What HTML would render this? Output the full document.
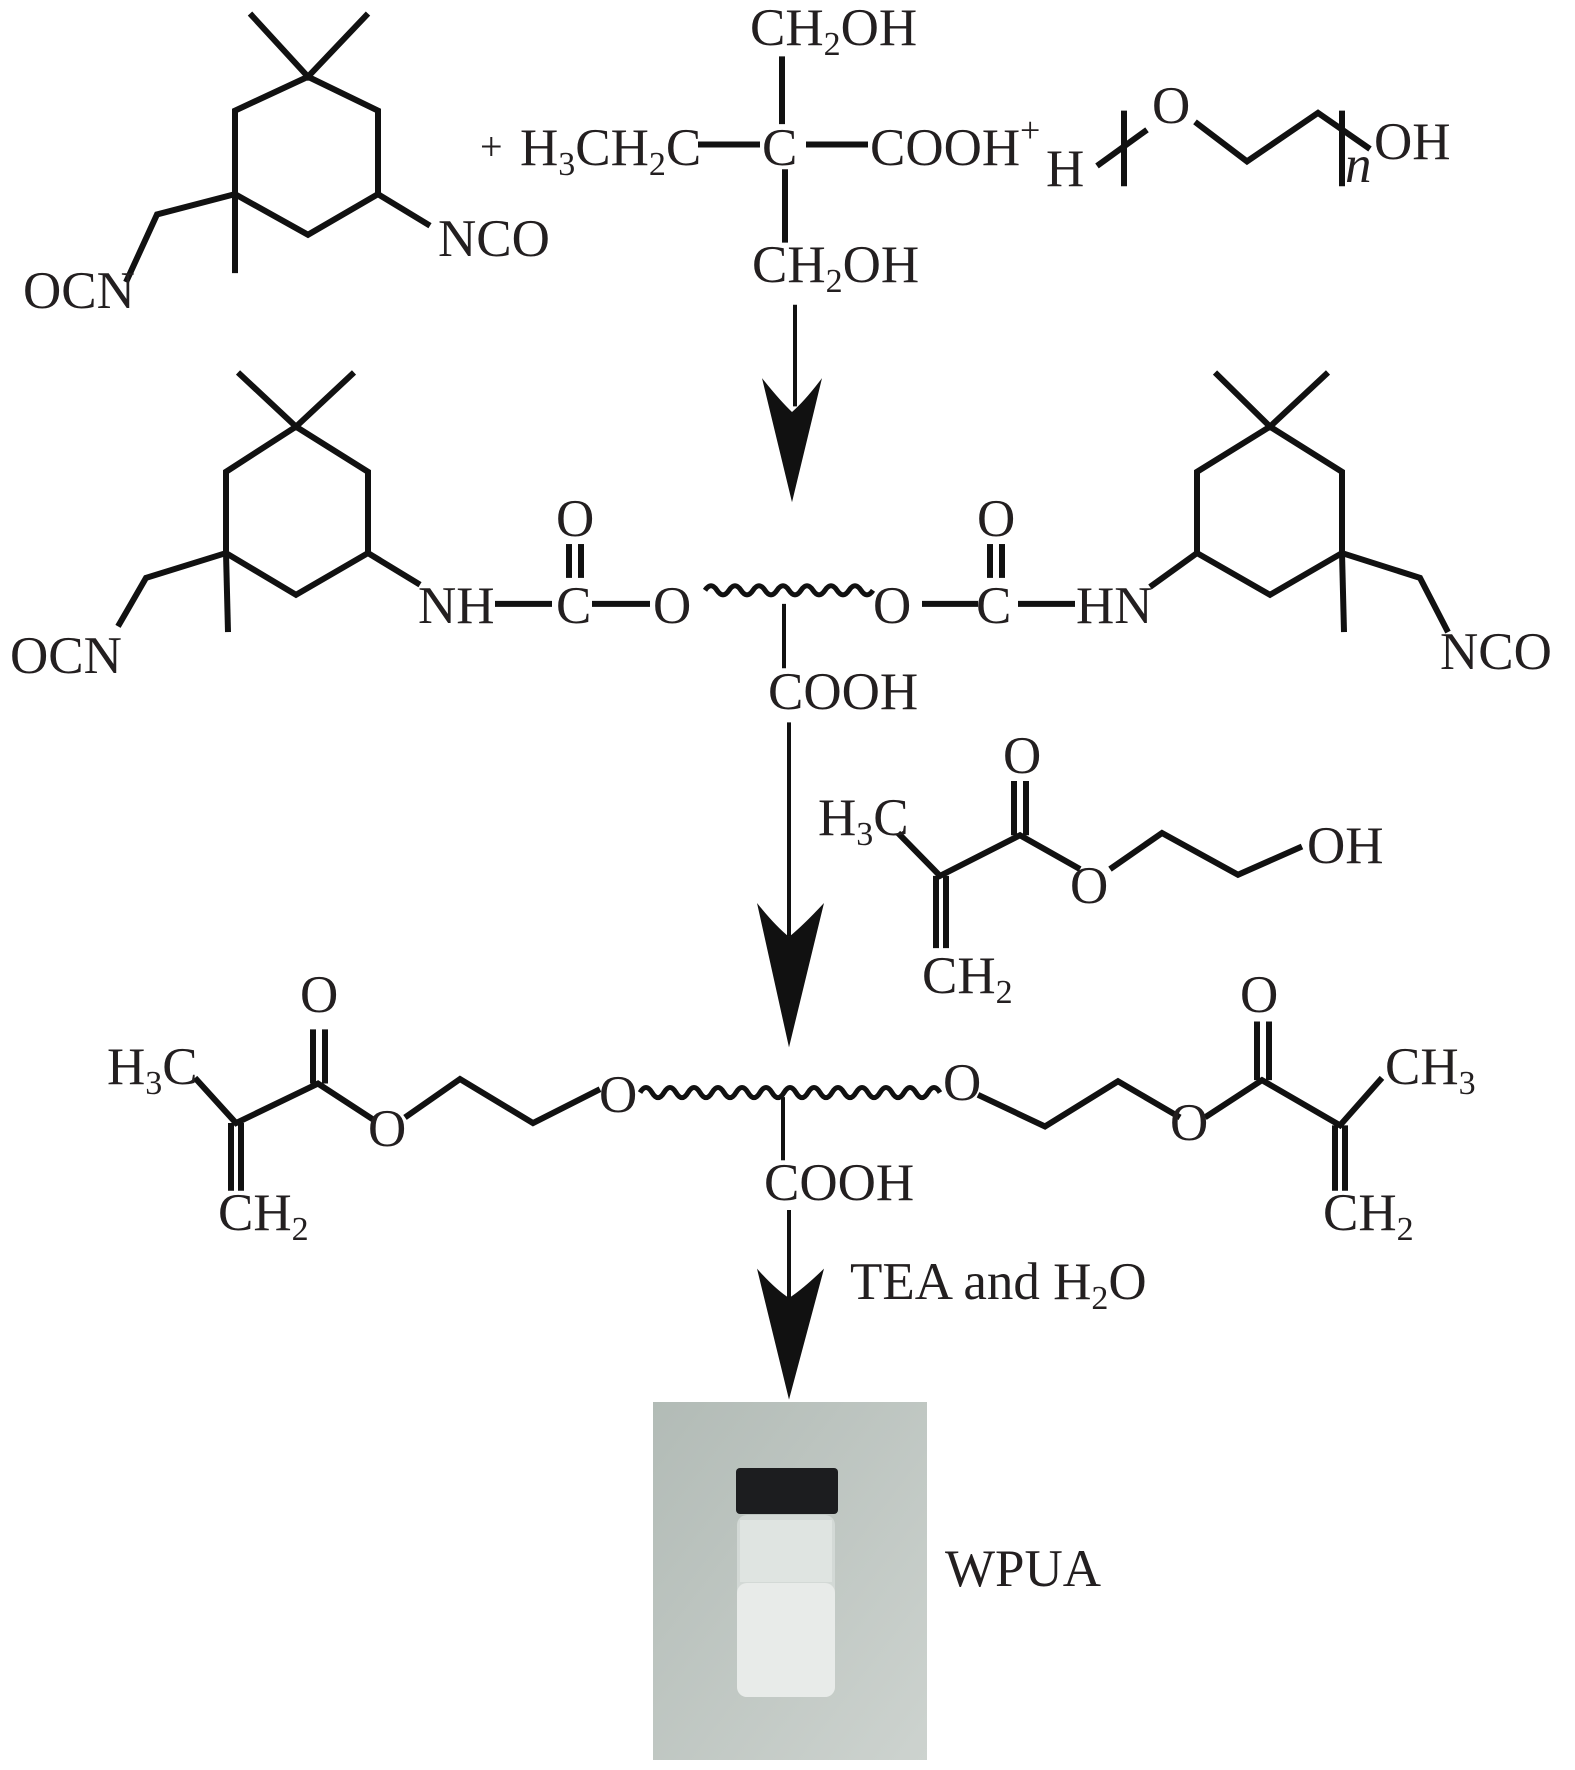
<!DOCTYPE html>
<html><head><meta charset="utf-8"><style>
html,body{margin:0;padding:0;background:#fff;}
svg{display:block;}
text{font-family:"Liberation Serif",serif;font-size:53px;fill:#231f20;}
.s{font-size:34px;}
</style></head><body>
<svg width="1575" height="1770" viewBox="0 0 1575 1770" xmlns="http://www.w3.org/2000/svg">
<defs>
<linearGradient id="bg" x1="0" y1="0" x2="1" y2="1"><stop offset="0" stop-color="#b2bbb6"/><stop offset="1" stop-color="#cdd3cf"/></linearGradient>
</defs>
<g transform="scale(1,1.1287)" fill="none" stroke="#111" stroke-width="6" stroke-linejoin="miter">
<polyline vector-effect="non-scaling-stroke" points="250,12 308,68 368,12"/>
<polygon vector-effect="non-scaling-stroke" points="308,68 378,98 378,172 308,208 235,172 235,98"/>
<line vector-effect="non-scaling-stroke" x1="235" y1="172" x2="235" y2="242"/>
<polyline vector-effect="non-scaling-stroke" points="235,172 157,190 126,250"/>
<line vector-effect="non-scaling-stroke" x1="378" y1="172" x2="430" y2="200"/>
<line vector-effect="non-scaling-stroke" x1="698" y1="128" x2="760" y2="128"/>
<line vector-effect="non-scaling-stroke" x1="806" y1="128" x2="868" y2="128"/>
<line vector-effect="non-scaling-stroke" x1="782" y1="50" x2="782" y2="110"/>
<line vector-effect="non-scaling-stroke" x1="785" y1="150" x2="785" y2="215"/>
<line vector-effect="non-scaling-stroke" x1="1097" y1="147" x2="1147" y2="115"/>
<polyline vector-effect="non-scaling-stroke" points="1195,108 1247,143 1318,100 1370,132"/>
<line vector-effect="non-scaling-stroke" x1="1124" y1="98" x2="1124" y2="165"/>
<line vector-effect="non-scaling-stroke" x1="1342" y1="98" x2="1342" y2="165"/>
<line vector-effect="non-scaling-stroke" stroke-width="4" x1="795" y1="270" x2="795" y2="360"/>
<polyline vector-effect="non-scaling-stroke" points="238,330 296,378 354,330"/>
<polygon vector-effect="non-scaling-stroke" points="296,378 368,418 368,490 296,527 226,490 226,418"/>
<line vector-effect="non-scaling-stroke" x1="226" y1="490" x2="228" y2="560"/>
<polyline vector-effect="non-scaling-stroke" points="226,490 146,512 118,555"/>
<line vector-effect="non-scaling-stroke" x1="368" y1="490" x2="420" y2="518"/>
<line vector-effect="non-scaling-stroke" x1="495" y1="535" x2="552" y2="535"/>
<line vector-effect="non-scaling-stroke" x1="592" y1="535" x2="650" y2="535"/>
<line vector-effect="non-scaling-stroke" x1="569" y1="482" x2="569" y2="512"/>
<line vector-effect="non-scaling-stroke" x1="581" y1="482" x2="581" y2="512"/>
<path vector-effect="non-scaling-stroke" stroke-width="5" d="M705,523 q6,-8 12,0 t12,0 t12,0 t12,0 t12,0 t12,0 t12,0 t12,0 t12,0 t12,0 t12,0 t12,0 t12,0 t12,0"/>
<line vector-effect="non-scaling-stroke" x1="922" y1="535" x2="978" y2="535"/>
<line vector-effect="non-scaling-stroke" x1="1018" y1="535" x2="1075" y2="535"/>
<line vector-effect="non-scaling-stroke" x1="990" y1="482" x2="990" y2="512"/>
<line vector-effect="non-scaling-stroke" x1="1002" y1="482" x2="1002" y2="512"/>
<line vector-effect="non-scaling-stroke" x1="1150" y1="520" x2="1197" y2="490"/>
<polygon vector-effect="non-scaling-stroke" points="1197,490 1197,418 1270,378 1342,418 1342,490 1270,527"/>
<polyline vector-effect="non-scaling-stroke" points="1215,330 1270,378 1328,330"/>
<line vector-effect="non-scaling-stroke" x1="1342" y1="490" x2="1344" y2="560"/>
<polyline vector-effect="non-scaling-stroke" points="1342,490 1420,512 1448,560"/>
<line vector-effect="non-scaling-stroke" stroke-width="4" x1="784" y1="535" x2="784" y2="592"/>
<line vector-effect="non-scaling-stroke" stroke-width="4" x1="789" y1="640" x2="789" y2="830"/>
<polyline vector-effect="non-scaling-stroke" points="898,738 940,776 1020,740 1080,770"/>
<line vector-effect="non-scaling-stroke" x1="936" y1="776" x2="936" y2="840"/>
<line vector-effect="non-scaling-stroke" x1="946" y1="776" x2="946" y2="840"/>
<line vector-effect="non-scaling-stroke" x1="1014" y1="692" x2="1014" y2="740"/>
<line vector-effect="non-scaling-stroke" x1="1026" y1="692" x2="1026" y2="740"/>
<polyline vector-effect="non-scaling-stroke" points="1110,770 1162,738 1238,775 1302,750"/>
<polyline vector-effect="non-scaling-stroke" points="195,955 236,995 318,960 375,993"/>
<line vector-effect="non-scaling-stroke" x1="231" y1="995" x2="231" y2="1055"/>
<line vector-effect="non-scaling-stroke" x1="241" y1="995" x2="241" y2="1055"/>
<line vector-effect="non-scaling-stroke" x1="313" y1="912" x2="313" y2="960"/>
<line vector-effect="non-scaling-stroke" x1="325" y1="912" x2="325" y2="960"/>
<polyline vector-effect="non-scaling-stroke" points="405,990 460,956 533,995 600,965"/>
<path vector-effect="non-scaling-stroke" stroke-width="5" d="M640,968 q6,-9 12,0 t12,0 t12,0 t12,0 t12,0 t12,0 t12,0 t12,0 t12,0 t12,0 t12,0 t12,0 t12,0 t12,0 t12,0 t12,0 t12,0 t12,0 t12,0 t12,0 t12,0 t12,0 t12,0 t12,0 t12,0"/>
<polyline vector-effect="non-scaling-stroke" points="978,970 1045,998 1118,958 1180,990"/>
<polyline vector-effect="non-scaling-stroke" points="1205,990 1262,957 1340,997 1382,955"/>
<line vector-effect="non-scaling-stroke" x1="1257" y1="905" x2="1257" y2="957"/>
<line vector-effect="non-scaling-stroke" x1="1269" y1="905" x2="1269" y2="957"/>
<line vector-effect="non-scaling-stroke" x1="1335" y1="997" x2="1335" y2="1055"/>
<line vector-effect="non-scaling-stroke" x1="1345" y1="997" x2="1345" y2="1055"/>
<line vector-effect="non-scaling-stroke" stroke-width="4" x1="783" y1="972" x2="783" y2="1028"/>
<line vector-effect="non-scaling-stroke" stroke-width="4" x1="789" y1="1072" x2="789" y2="1150"/>
<g fill="#111" stroke="none">
<path d="M762,335 Q780,355 792,365 Q805,355 822,335 L792,445 Z"/>
<path d="M757,800 Q775,820 789,830 Q803,820 824,800 L789,928 Z"/>
<path d="M757,1124 Q775,1142 789,1150 Q803,1142 824,1124 L789,1240 Z"/>
</g>
</g>

<text x="750" y="45">CH<tspan class="s" dy="10">2</tspan><tspan dy="-10">OH</tspan></text>
<text x="480" y="160" style="font-size:40px">+</text>
<text x="520" y="165">H<tspan class="s" dy="10">3</tspan><tspan dy="-10">CH</tspan><tspan class="s" dy="10">2</tspan><tspan dy="-10">C</tspan></text>
<text x="762" y="165">C</text>
<text x="870" y="165">COOH</text>
<text x="1020" y="142" style="font-size:36px">+</text>
<text x="1046" y="186">H</text>
<text x="1152" y="123">O</text>
<text x="1345" y="182" font-style="italic">n</text>
<text x="1374" y="159">OH</text>
<text x="752" y="282">CH<tspan class="s" dy="10">2</tspan><tspan dy="-10">OH</tspan></text>
<text x="23" y="308">OCN</text>
<text x="438" y="256">NCO</text>
<text x="418" y="623">NH</text>
<text x="556" y="623">C</text>
<text x="653" y="623">O</text>
<text x="873" y="623">O</text>
<text x="976" y="623">C</text>
<text x="1076" y="623">HN</text>
<text x="556" y="536">O</text>
<text x="977" y="536">O</text>
<text x="10" y="673">OCN</text>
<text x="1440" y="669">NCO</text>
<text x="768" y="709">COOH</text>
<text x="818" y="835">H<tspan class="s" dy="10">3</tspan><tspan dy="-10">C</tspan></text>
<text x="1003" y="773">O</text>
<text x="1070" y="903">O</text>
<text x="1307" y="863">OH</text>
<text x="922" y="993">CH<tspan class="s" dy="10">2</tspan></text>
<text x="107" y="1084">H<tspan class="s" dy="10">3</tspan><tspan dy="-10">C</tspan></text>
<text x="300" y="1012">O</text>
<text x="368" y="1146">O</text>
<text x="599" y="1112">O</text>
<text x="943" y="1100">O</text>
<text x="1170" y="1140">O</text>
<text x="1240" y="1012">O</text>
<text x="1385" y="1084">CH<tspan class="s" dy="10">3</tspan></text>
<text x="218" y="1230">CH<tspan class="s" dy="10">2</tspan></text>
<text x="1323" y="1230">CH<tspan class="s" dy="10">2</tspan></text>
<text x="764" y="1200">COOH</text>
<text x="850" y="1299">TEA and H<tspan class="s" dy="10">2</tspan><tspan dy="-10">O</tspan></text>
<text x="945" y="1586">WPUA</text>

<rect x="653" y="1402" width="274" height="358" fill="url(#bg)"/>
<rect x="737" y="1515" width="98" height="182" rx="10" fill="#d3d9d6"/>
<rect x="740" y="1520" width="92" height="62" fill="#dfe4e1"/>
<rect x="737" y="1583" width="98" height="114" rx="10" fill="#e8ebe9"/>
<rect x="736" y="1468" width="102" height="46" rx="4" fill="#1c1d1f"/>
</svg>
</body></html>
